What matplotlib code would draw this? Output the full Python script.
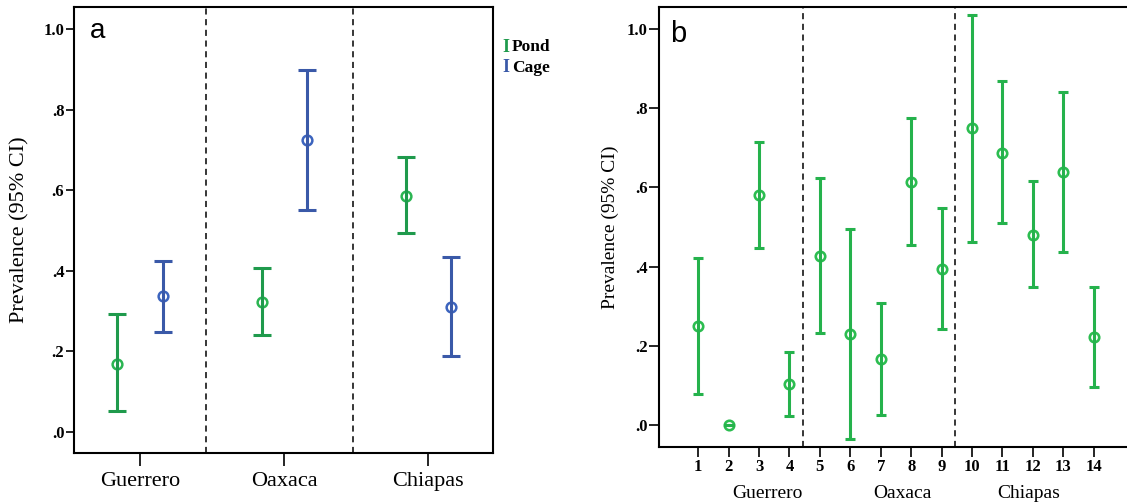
import numpy as np
import matplotlib
matplotlib.use("Agg")
import matplotlib.pyplot as plt
import matplotlib.transforms as mtransforms

plt.rcParams['font.family'] = ['Liberation Serif', 'DejaVu Serif']

# panel a: prevalence by state and culture system
states = ["Guerrero", "Oaxaca", "Chiapas"]
pond_mean = [0.170, 0.323, 0.587]
pond_low = [0.051, 0.240, 0.494]
pond_high = [0.292, 0.408, 0.683]
cage_mean = [0.337, 0.724, 0.311]
cage_low = [0.249, 0.552, 0.188]
cage_high = [0.425, 0.898, 0.434]

# panel b: prevalence by farm
farms = list(range(1, 15))
farm_mean = [0.249, 0.0, 0.581, 0.104, 0.427, 0.230, 0.166,
             0.614, 0.395, 0.749, 0.688, 0.481, 0.639, 0.222]
farm_low = [0.078, 0.0, 0.446, 0.023, 0.233, -0.035, 0.025,
            0.455, 0.243, 0.463, 0.510, 0.348, 0.437, 0.096]
farm_high = [0.421, 0.0, 0.716, 0.185, 0.623, 0.495, 0.307,
             0.775, 0.548, 1.037, 0.869, 0.617, 0.842, 0.349]
group_names = ["Guerrero", "Oaxaca", "Chiapas"]
group_pos = [3.29, 7.72, 11.86]

yticks = [0.0, 0.2, 0.4, 0.6, 0.8, 1.0]
ytick_labels = [".0", ".2", ".4", ".6", ".8", "1.0"]

pond_bar = "#1f9a4c"
pond_pt = "#2bb552"
cage_bar = "#3a59a8"
cage_pt = "#3c64be"
farm_bar = "#25b24c"
farm_pt = "#2cbd50"


def ci(mean, low, high):
    m = np.array(mean)
    return m, np.vstack([m - np.array(low), np.array(high) - m])


fig = plt.figure(figsize=(11.27, 5.04), dpi=100)

# ---- panel a ----
ax = fig.add_axes([0.0657, 0.1012, 0.3718, 0.8849])
x = np.arange(len(states))
off = 0.157
m, err = ci(pond_mean, pond_low, pond_high)
ax.plot(x - off, m, 'o', mfc='white', mec=pond_pt, mew=1.8, ms=7, zorder=2)
ax.errorbar(x - off, m, yerr=err, fmt='none', ecolor=pond_bar, elinewidth=2.2,
            capsize=6.5, capthick=2.2, zorder=3)
m, err = ci(cage_mean, cage_low, cage_high)
ax.plot(x + off, m, 'o', mfc='white', mec=cage_pt, mew=1.8, ms=7, zorder=2)
ax.errorbar(x + off, m, yerr=err, fmt='none', ecolor=cage_bar, elinewidth=2.2,
            capsize=6.5, capthick=2.2, zorder=3)

for xv in [0.46, 1.48]:
    ax.axvline(xv, color='black', ls=(0, (4, 3)), lw=1.1)

ax.set_xlim(-0.458, 2.45)
ax.set_ylim(-0.052, 1.055)
ax.set_xticks(x)
ax.set_xticklabels(states, fontsize=16)
ax.set_yticks(yticks)
ax.set_yticklabels(ytick_labels, fontsize=12, fontweight='bold')
ax.tick_params(axis='x', length=9, width=1.2, pad=5)
ax.tick_params(axis='y', length=6, width=1.2, pad=1)
ax.set_ylabel("Prevalence (95% CI)", fontsize=16)
ax.yaxis.set_label_coords(-0.107, 0.5)
for s in ax.spines.values():
    s.set_linewidth(1.5)
ax.text(0.038, 0.93, "a", transform=ax.transAxes, fontsize=20,
        family='Liberation Sans', va='baseline')

# legend drawn as text
fig.text(502 / 1127, 1 - 47 / 504, "I", color=pond_bar, fontsize=13,
         fontweight='bold', va='center')
fig.text(512 / 1127, 1 - 47 / 504, "Pond", fontsize=12.5, fontweight='bold',
         va='center')
fig.text(502 / 1127, 1 - 68 / 504, "I", color=cage_bar, fontsize=13,
         fontweight='bold', va='center')
fig.text(512 / 1127, 1 - 68 / 504, "Cage", fontsize=12.5, fontweight='bold',
         va='center')

# ---- panel b ----
bx = fig.add_axes([0.5847, 0.1131, 0.4206, 0.873])
m, err = ci(farm_mean, farm_low, farm_high)
bx.plot(farms, m, 'o', mfc='white', mec=farm_pt, mew=1.9, ms=6.8, zorder=2)
bx.errorbar(farms, m, yerr=err, fmt='none', ecolor=farm_bar, elinewidth=2.2,
            capsize=3.3, capthick=2.2, zorder=3)

for xv in [4.43, 9.45]:
    bx.axvline(xv, color='black', ls=(0, (4, 3)), lw=1.1)

bx.set_xlim(-0.29, 15.29)
bx.set_ylim(-0.056, 1.056)
bx.set_xticks(farms)
bx.set_xticklabels([str(f) for f in farms], fontsize=12, fontweight='bold')
bx.set_yticks(yticks)
bx.set_yticklabels(ytick_labels, fontsize=12, fontweight='bold')
bx.tick_params(axis='x', length=7, width=1.2, pad=2)
bx.tick_params(axis='y', length=7, width=1.2, pad=1)
bx.set_ylabel("Prevalence (95% CI)", fontsize=14)
bx.yaxis.set_label_coords(-0.084, 0.5)
for s in bx.spines.values():
    s.set_linewidth(1.5)
bx.text(0.023, 0.92, "b", transform=bx.transAxes, fontsize=21,
        family='Liberation Sans', va='baseline')

trans = mtransforms.blended_transform_factory(bx.transData, bx.transAxes)
for name, xp in zip(group_names, group_pos):
    bx.text(xp, -0.105, name, transform=trans, fontsize=14, ha='center',
            va='center')

fig.savefig("out.png", dpi=100)
